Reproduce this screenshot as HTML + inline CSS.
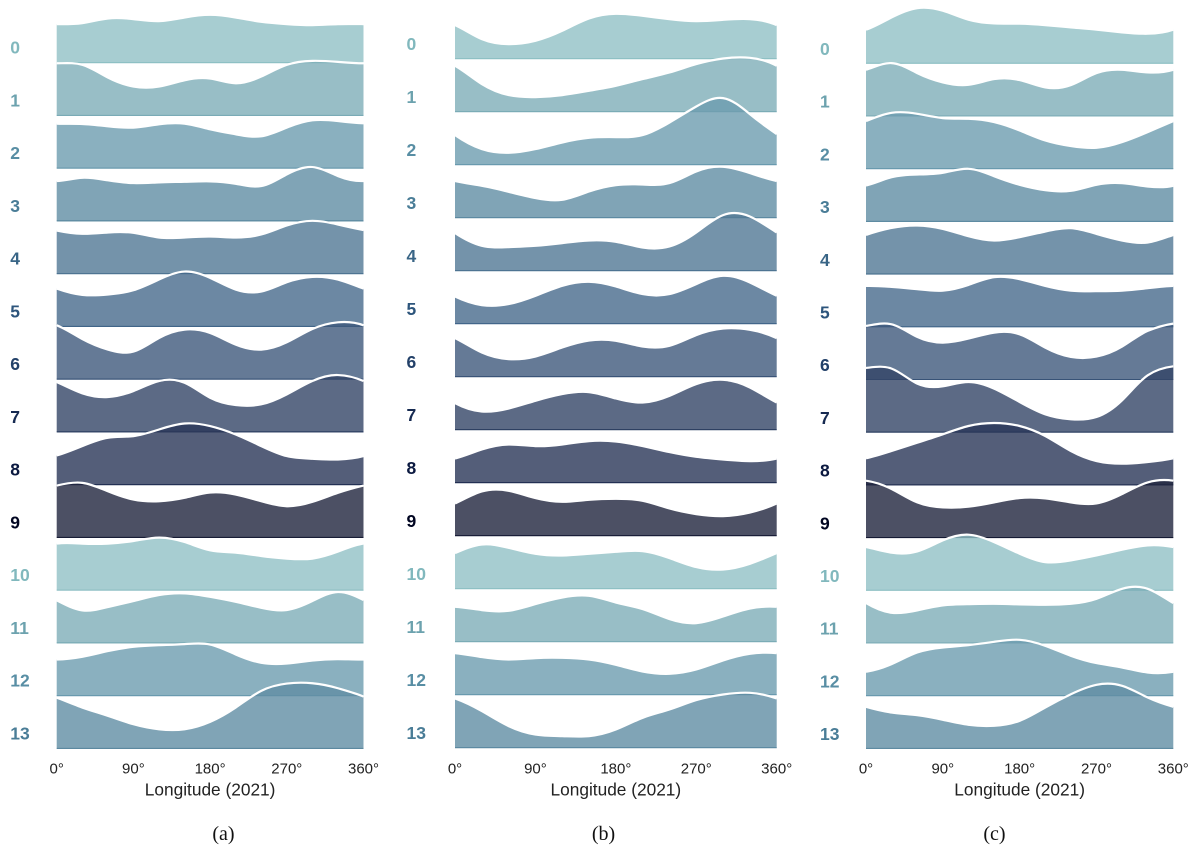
<!DOCTYPE html>
<html lang="en">
<head>
<meta charset="utf-8">
<title>Ridgeline plots of longitude density (2021)</title>
<style>
html,body{margin:0;padding:0;background:#fff;}
svg{display:block;}
text{font-family:"Liberation Sans",sans-serif;}
.cap{font-family:"Liberation Serif",serif;font-size:20px;fill:#111;text-anchor:middle;}
.tick{font-size:15px;fill:#222;text-anchor:middle;dominant-baseline:central;}
.xt{font-size:17.3px;fill:#222;text-anchor:middle;dominant-baseline:central;}
.row{font-size:17.5px;font-weight:bold;dominant-baseline:central;}
</style>
</head>
<body>
<svg id="chart" xmlns="http://www.w3.org/2000/svg" width="1200" height="849" viewBox="0 0 1200 849"></svg>
<script>
const longitudes = [0,30,60,90,120,150,180,210,240,270,300,330,360];
const categories = ['0','1','2','3','4','5','6','7','8','9','10','11','12','13'];
const tickLabels = [0,90,180,270,360];
const xAxisTitle = 'Longitude (2021)';

const panelA = [
 [37.7,38.7,43.3,42.7,40.7,44.3,47,44.3,40,37.7,36.7,37.7,37.7],
 [51.3,49.7,37,28,28,34.3,36,31.3,38,49.7,53.7,52.7,51.3],
 [43.7,43.3,41,39.7,43,43.7,38,33,31,39.7,47,46.3,44],
 [39,42.3,39.7,37,37.7,38.3,38.7,36.3,34,45.7,53,44,39],
 [42.3,39,40.3,40,35.3,35.3,36.3,35.3,38.3,47.3,52,48.3,42.7],
 [37,30.7,31,35.3,46,54,47.7,36,34,43.3,48.7,46,37],
 [53,39.3,28.7,26.7,40.3,48.7,45.3,33.7,28.7,36,49.3,56,53],
 [49,37.7,34,40,50,48.3,33.3,26,26.7,36.7,50,56,50],
 [28.3,37.7,46,47.7,54.3,60.3,57.7,49.3,37.7,27.7,25,24.3,27.7],
 [51,53.7,45.3,37,35.3,38.7,44,42,35.3,30.3,34.7,43.7,51],
 [45.7,45.7,45.7,48.3,51.7,47.3,39,36.7,33.3,30.7,30.7,37.7,45.7],
 [41.7,31.7,35,41,47,48.7,45.3,40.3,34.3,32,41,50,42],
 [35.3,38,43.7,48,49.7,50.7,50.3,40.3,32,31.3,34.3,35.7,35.3],
 [50,40,31.7,23.3,18.3,18.3,25.7,40,56.7,64,64.3,59.3,51]
];
const panelB = [
 [32.7,18.7,13.7,17,27,39.3,44,42,38.7,36.7,38,38.7,32.7],
 [45,26.7,15.7,13.7,15.7,20,25,31.7,38.3,46.7,52.3,53,45],
 [28.7,14.7,11,14.7,21.3,26,26.7,28.7,41.3,57.3,65.7,49.7,29.7],
 [35.7,31,25,18.7,17,25.3,31.7,32.3,33.7,45.3,50,43.7,35.7],
 [36.7,24,22.7,24,26.7,29.3,28,22.3,23.3,37.3,54.7,53.3,37.3],
 [26.3,17.7,18.7,27,37,41,36.3,28.7,28.7,38.7,47,40.3,27],
 [37.7,23.3,16.7,19.3,28.3,35.3,35,29.3,30,40.7,47.3,46,37.7],
 [25.7,17.3,20.3,28,34.7,36.7,30.3,26.3,33,44.7,49,41.3,26.3],
 [23.3,32.3,37.3,35.7,37.3,40.7,40.3,35.7,29.7,25,22.3,20.7,23.3],
 [31.3,43.3,44,36.7,33,35,36,34,26.3,20.7,18.7,22.3,31.3],
 [34.7,43.3,40,34,32.3,34,36,36.7,29.7,20.7,18.3,24,34.7],
 [34,30.7,30,36.7,43.3,45,38.3,31.7,21.7,17.7,24.3,32.3,34],
 [40.7,36.7,34.3,35.7,36,34.3,29,22.3,20,24.3,33.3,40,40.7],
 [48.3,35.7,20.7,12.3,10.7,10.7,17.3,29,37.3,46.7,52.3,54,48.3]
];
const panelC = [
 [32.7,45,54.3,51.7,42.7,39,38.7,37.3,35,32.7,30,28.7,32.7],
 [45.3,52,42,32.7,30.3,36,35,27.7,30,42,45.3,42.7,45.3],
 [46.7,55,54,49.7,49,45.7,37.3,27.3,21.7,20,25.7,35.7,46.7],
 [35,43.3,46,47.7,51.7,44.3,35.7,30.3,29.7,35.7,37.3,34,34.7],
 [38.3,45.3,47.7,44.3,37,32.7,36,41.7,45,39.3,32.7,30.7,38.3],
 [40,39,36.7,35.3,41,48.7,46.7,40,35.3,34.7,35.3,37.7,40],
 [52.7,54.3,41.7,36,40,46,44.3,31,21.7,22,32,47.7,55],
 [63.3,62.7,47.7,45,49.3,42.7,29.3,17,12,14.3,31,56,65],
 [25.7,33,41.3,49.7,58,61,58,48,33,23,20.3,22,25.7],
 [56,47.7,34.3,29.3,30,34.3,38.7,38.3,34.3,33.3,42.7,54.3,56],
 [42.3,36.7,38,49,54.7,47.3,35.7,27.3,29,34,39.7,44,42.3],
 [39,29.3,31.7,36.7,38,38.3,37.7,37.3,38.3,43.3,53.3,53.3,39],
 [23,30.7,42.3,47.3,49.7,53,55,49,39,31.7,27.3,22.3,23],
 [40.7,35,32.3,27.7,22.7,21.7,26.7,40,53.3,62.7,61.7,50,40.7]
];

const fillPalette = ['#91c1c6','#7eaeb8','#6d9caf','#608da4','#517895','#476a8c','#3e597c','#334567','#293657','#1f243d','#91c1c6','#7eaeb8','#6d9caf','#608da4'];
const inkPalette = ['#81b8bd','#6ca2ae','#588ea4','#4a7d97','#396586','#2d557c','#234169','#162a51','#0b1940','#000521','#81b8bd','#6ca2ae','#588ea4','#4a7d97'];
const NS = 'http://www.w3.org/2000/svg';
const svg = document.getElementById('chart');

function make(tag, attrs, parent, text){
  const el = document.createElementNS(NS, tag);
  for (const k in attrs) el.setAttribute(k, attrs[k]);
  if (text !== undefined) el.textContent = text;
  parent.appendChild(el);
  return el;
}

/* C2 periodic cubic spline through the points, emitted as Bezier segments */
function smoothPath(pts){
  const n = pts.length - 1;
  const h = pts[1][0] - pts[0][0];
  const y = pts.slice(0, n).map(p => p[1]);
  const m = new Array(n).fill(0);
  for (let it = 0; it < 60; it++){
    for (let i = 0; i < n; i++){
      const a = (i + n - 1) % n, b = (i + 1) % n;
      m[i] = (3 * (y[b] - y[a]) / h - m[a] - m[b]) / 4;
    }
  }
  let d = '';
  for (let i = 0; i < n; i++){
    const p1 = pts[i], p2 = pts[i+1];
    const m1 = m[i], m2 = m[(i+1) % n];
    d += ' C' + (p1[0]+h/3).toFixed(2) + ' ' + (p1[1]+m1*h/3).toFixed(2) + ' ' + (p2[0]-h/3).toFixed(2) + ' ' + (p2[1]-m2*h/3).toFixed(2) + ' ' + p2[0].toFixed(2) + ' ' + p2[1].toFixed(2);
  }
  return d;
}

function drawPanel(cfg, rows){
  const g = make('g', {}, svg);
  
  
  const xScale = deg => cfg.x0 + (cfg.x1 - cfg.x0) * deg / 360;
  const baseline = i => cfg.base + cfg.step * i;
  const yScale = (v, i) => baseline(i) - v - 0.9;

  rows.forEach((vals, i) => {
    const pts = vals.map((v, k) => [xScale(longitudes[k]), yScale(v, i)]);
    const curve = smoothPath(pts);
    const start = 'M' + pts[0][0].toFixed(2) + ' ' + pts[0][1].toFixed(2);
    const ridge = make('g', {}, g);
    
    
    const area = make('path', {
      d: start + curve + ' L' + xScale(360).toFixed(2) + ' ' + baseline(i).toFixed(2) + ' L' + xScale(0).toFixed(2) + ' ' + baseline(i).toFixed(2) + ' Z',
      fill: fillPalette[i], 'fill-opacity': 0.8
    }, ridge);
    
    
    const line = make('path', {d: start + curve, fill: 'none', stroke: '#fff', 'stroke-width': 2.2}, ridge);
    
    
    const base = make('line', {x1: xScale(0), x2: xScale(360), y1: baseline(i), y2: baseline(i), stroke: inkPalette[i], 'stroke-opacity': 0.85, 'stroke-width': 1.1}, ridge);
    
    
    const label = make('text', {x: cfg.labelX, y: cfg.labelY + cfg.step * i, fill: inkPalette[i], class: 'row'}, g, categories[i]);
    
    
  });

  tickLabels.forEach(t => {
    const tick = make('text', {x: xScale(t), y: 769, class: 'tick'}, g, t + '°');
    
    
  });
  const title = make('text', {x: xScale(180), y: 789.5, class: 'xt'}, g, xAxisTitle);
  
  
  const cap = make('text', {x: cfg.capX, y: 840, class: 'cap'}, g, '(' + cfg.id + ')');
  
  
}

drawPanel({id:'a', x0:56.7, x1:363.5, base:62.7, step:52.75, labelX:10.3, labelY:47.7, capX:223.5}, panelA);
drawPanel({id:'b', x0:455, x1:776.7, base:58.7, step:53, labelX:406.5, labelY:44, capX:603.5}, panelB);
drawPanel({id:'c', x0:866, x1:1173.3, base:63.3, step:52.7, labelX:820, labelY:49, capX:994.5}, panelC);
</script>
</body>
</html>
